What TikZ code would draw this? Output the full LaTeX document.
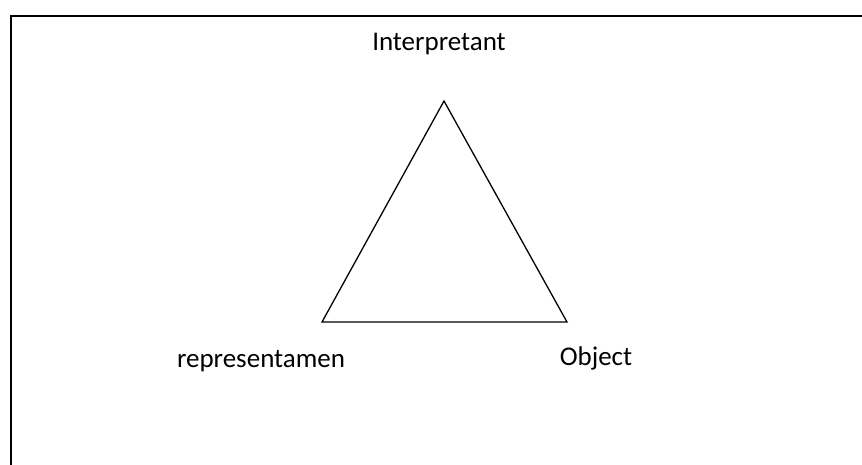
\documentclass[tikz,border=0pt]{standalone}
\usepackage{fontspec}
\setmainfont{Carlito}
\begin{document}
\begin{tikzpicture}[x=1pt,y=-1pt,
  lbl/.style={font=\fontsize{27}{31}\selectfont, inner sep=0pt, anchor=center},
  edge/.style={line width=1.3pt, line join=miter}]
\useasboundingbox (0,0) rectangle (862,464);
\clip (0,0) rectangle (862,464);
\fill[white] (0,0) rectangle (862,464);
\draw[line width=1.6pt] (11,16) rectangle (880,490);
\coordinate (top) at (444,101);
\coordinate (bl) at (322,322);
\coordinate (br) at (567,322);
\draw[edge] (top) -- (bl) -- (br) -- cycle;
\node[lbl] (interp) at (439,44) {Interpretant};
\node[lbl] (repr) at (261,361) {representamen};
\node[lbl] (obj) at (596,358) {Object};
\end{tikzpicture}
\end{document}
